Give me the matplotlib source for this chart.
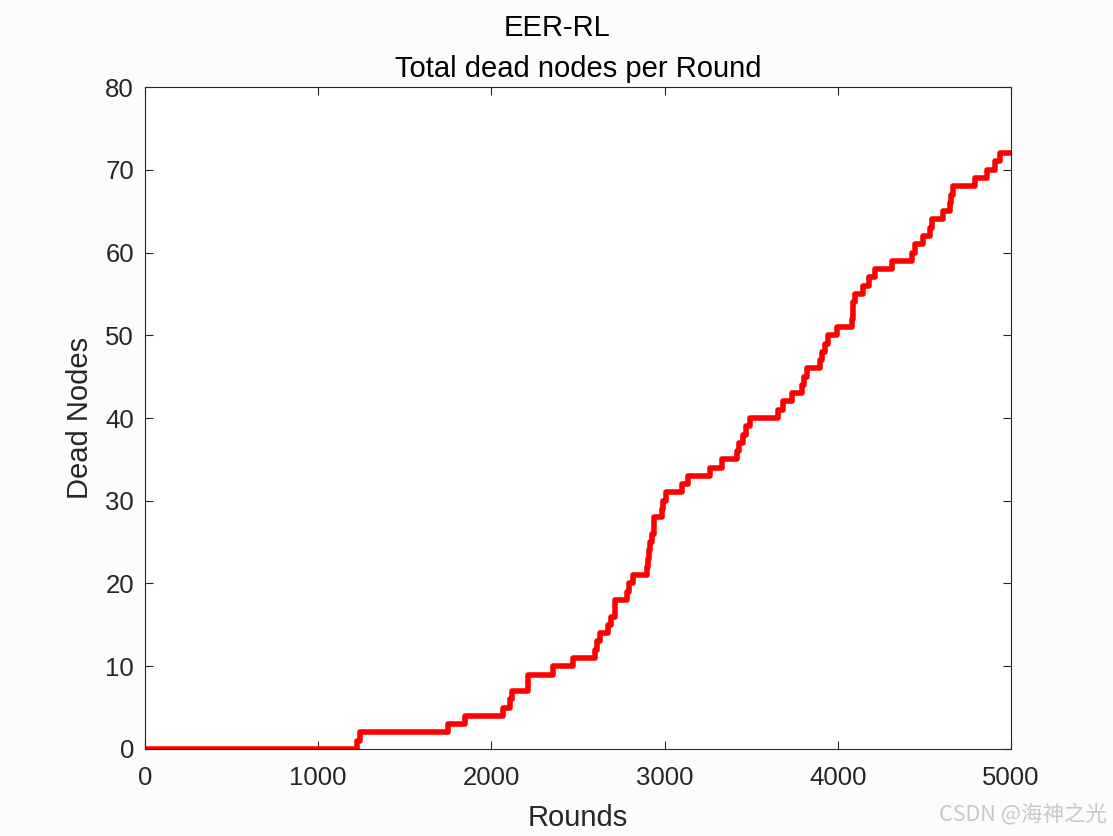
import matplotlib.pyplot as plt
import numpy as np

plt.rcParams['font.family'] = ['Liberation Sans', 'DejaVu Sans']

# rounds at which the dead-node count changes, and the count from then on
rounds = [0, 1225, 1240, 1750, 1848, 2067, 2110, 2120, 2212, 2357, 2473,
          2600, 2612, 2624, 2673, 2690, 2713, 2783, 2795, 2818, 2898, 2905,
          2912, 2918, 2927, 2940, 2985, 2992, 3010, 3100, 3135, 3262, 3331,
          3418, 3430, 3450, 3470, 3493, 3655, 3684, 3736, 3793, 3805, 3822,
          3897, 3910, 3925, 3943, 3995, 4082, 4086, 4090, 4099, 4146, 4180,
          4215, 4313, 4428, 4445, 4492, 4532, 4545, 4607, 4648, 4655, 4665,
          4792, 4861, 4908, 4936, 5000]
dead = [0, 1, 2, 3, 4, 5, 6, 7, 9, 10, 11,
        12, 13, 14, 15, 16, 18, 19, 20, 21, 22, 23,
        24, 25, 26, 28, 29, 30, 31, 32, 33, 34, 35,
        36, 37, 38, 39, 40, 41, 42, 43, 44, 45, 46,
        47, 48, 49, 50, 51, 52, 53, 54, 55, 56, 57,
        58, 59, 60, 61, 62, 63, 64, 65, 66, 67, 68,
        69, 70, 71, 72, 72]

text_col = '#262626'

fig = plt.figure(figsize=(11.13, 8.36), dpi=100, facecolor='#fcfcfc')
ax = fig.add_axes([0.1303, 0.1041, 0.7781, 0.7918])
ax.step(rounds, dead, where='post', color='red', linewidth=4,
        solid_joinstyle='round', solid_capstyle='round')

ax.set_xlim(0, 5000)
ax.set_ylim(0, 80)
ax.set_xticks(np.arange(0, 5001, 1000))
ax.set_yticks(np.arange(0, 81, 10))
ax.tick_params(direction='in', top=True, right=True, labelsize=18.5,
               colors=text_col, length=6, width=0.8)
ax.tick_params(axis='x', pad=12)
ax.tick_params(axis='y', pad=8)
for s in ax.spines.values():
    s.set_color(text_col)
    s.set_linewidth(0.8)

ax.set_xlabel('Rounds', fontsize=21, color=text_col, labelpad=10)
ax.set_ylabel('Dead Nodes', fontsize=21, color=text_col, labelpad=8)
ax.set_title('Total dead nodes per Round', fontsize=21, color='black', pad=7)
fig.text(0.5, 0.966, 'EER-RL', ha='center', va='center', fontsize=21,
         color='black')

fig.text(0.995, 0.025, 'CSDN @海神之光', ha='right', va='center', fontsize=15.5,
         color='#c8c8c8', family=['Noto Sans CJK SC', 'DejaVu Sans'])

fig.savefig('out.png', dpi=100, facecolor=fig.get_facecolor())
